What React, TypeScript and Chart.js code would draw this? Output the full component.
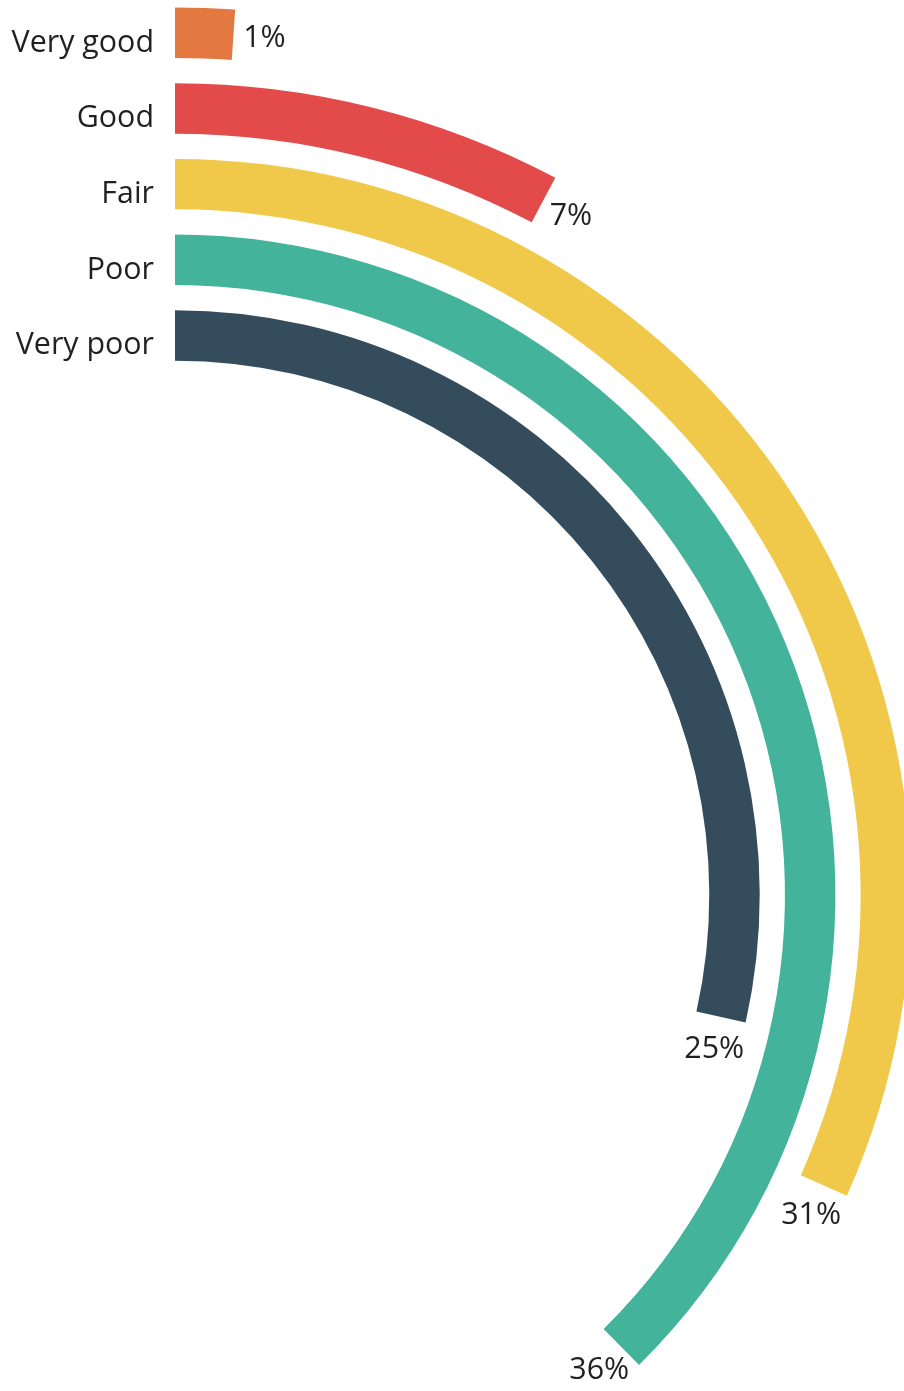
import React, { useEffect, useRef } from 'react';
import { Chart, registerables } from 'chart.js';

Chart.register(...registerables);

// Categories, from the outer ring to the inner ring
const categories = ['Very good', 'Good', 'Fair', 'Poor', 'Very poor'];
// Arc length of each ring as drawn, in percent of a full turn
const arcValues = [1.08, 7.76, 31.7, 37.6, 28.5];
// Printed value labels
const valueLabels = ['1%', '7%', '31%', '36%', '25%'];
const ringColors = ['#E37940', '#E34B4B', '#F0C84A', '#43B39C', '#344C5C'];
const fullTurn = 100;

const TEXT_COLOR = '#231F20';
const FONT = '30.4px "Open Sans", "Noto Sans", sans-serif';

const labelPlugin = {
  id: 'radialLabels',
  afterDatasetsDraw(chart: any) {
    const ctx = chart.ctx;
    ctx.save();
    ctx.fillStyle = TEXT_COLOR;
    ctx.font = FONT;
    categories.forEach((cat, i) => {
      const meta = chart.getDatasetMeta(i * 2);
      const arc = meta.data[0];
      const { x, y, endAngle, innerRadius, outerRadius } = arc.getProps(
        ['x', 'y', 'endAngle', 'innerRadius', 'outerRadius'],
        true
      );
      const rMid = (innerRadius + outerRadius) / 2;
      // category label, left of the ring start
      ctx.textAlign = 'right';
      ctx.textBaseline = 'alphabetic';
      ctx.fillText(cat, x - 21, y - rMid + 19);
      // value label just past the arc end
      const ex = x + rMid * Math.cos(endAngle);
      const ey = y + rMid * Math.sin(endAngle);
      const off = 31;
      const lx = ex - off * Math.sin(endAngle);
      const ly = ey + off * Math.cos(endAngle) + 2;
      ctx.textAlign = 'center';
      ctx.textBaseline = 'middle';
      ctx.fillText(valueLabels[i], lx, ly);
    });
    ctx.restore();
  },
};

export default function App() {
  const ref = useRef<HTMLCanvasElement | null>(null);

  useEffect(() => {
    if (!ref.current) return;
    const datasets: any[] = [];
    categories.forEach((cat, i) => {
      if (i > 0) {
        datasets.push({
          label: 'gap' + i,
          data: [fullTurn],
          backgroundColor: ['rgba(0,0,0,0)'],
          borderWidth: 0,
          weight: 1,
        });
      }
      datasets.push({
        label: cat,
        data: [arcValues[i], fullTurn - arcValues[i]],
        backgroundColor: [ringColors[i], 'rgba(0,0,0,0)'],
        borderWidth: 0,
        weight: 2,
      });
    });

    const chart = new Chart(ref.current, {
      type: 'doughnut',
      data: { labels: ['value', 'rest'], datasets },
      options: {
        responsive: false,
        maintainAspectRatio: false,
        animation: false,
        events: [],
        radius: 887.5,
        cutout: '60.2%',
        rotation: 0,
        circumference: 360,
        layout: { padding: 0 },
        plugins: {
          legend: { display: false },
          tooltip: { enabled: false },
        },
      } as any,
      plugins: [labelPlugin],
    });
    return () => chart.destroy();
  }, []);

  return (
    <div
      style={{
        position: 'fixed',
        left: 0,
        top: 0,
        width: 904,
        height: 1391,
        overflow: 'hidden',
        background: '#fff',
      }}
    >
      <canvas
        ref={ref}
        width={1776}
        height={1776}
        style={{ position: 'absolute', left: -713, top: 7, width: 1776, height: 1776 }}
      />
    </div>
  );
}
